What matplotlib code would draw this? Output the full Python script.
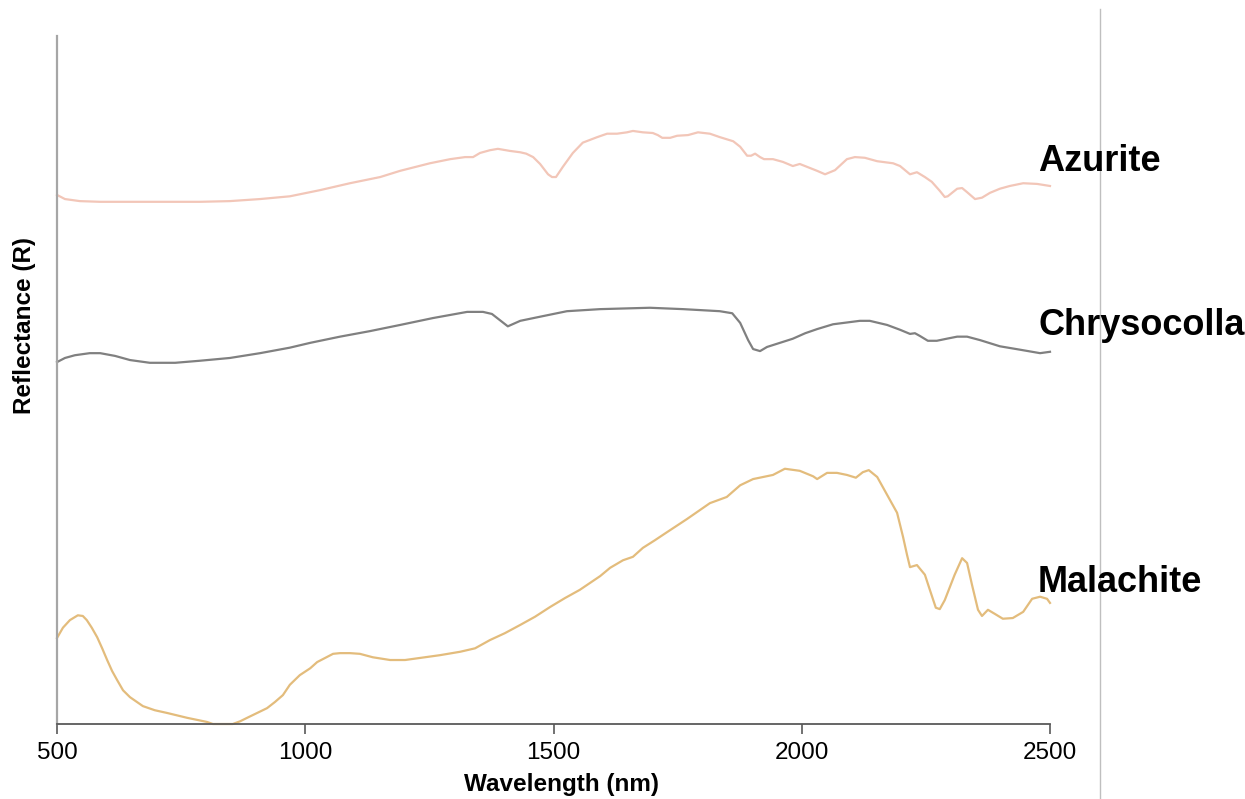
import matplotlib.pyplot as plt

plt.rcParams['font.family'] = ['Liberation Sans', 'DejaVu Sans']

# wavelength (nm) and relative reflectance
azurite_wl = [500, 516, 546, 587, 647, 707, 788, 848, 909, 969, 1030, 1090, 1151, 1191, 1251,
              1292, 1322, 1338, 1352, 1372, 1388, 1412, 1433, 1445, 1459, 1473, 1489, 1497, 1505,
              1519, 1539, 1559, 1588, 1608, 1628, 1648, 1660, 1680, 1700, 1710, 1719, 1735, 1749,
              1771, 1791, 1815, 1835, 1862, 1876, 1890, 1898, 1906, 1916, 1924, 1942, 1962, 1982,
              1996, 2017, 2031, 2047, 2067, 2091, 2107, 2127, 2152, 2184, 2198, 2218, 2232, 2248,
              2262, 2278, 2288, 2294, 2313, 2323, 2333, 2349, 2363, 2379, 2399, 2419, 2446, 2474, 2500]
azurite_r = [0.769, 0.763, 0.760, 0.759, 0.759, 0.759, 0.759, 0.760, 0.763, 0.767, 0.776, 0.786,
             0.795, 0.804, 0.815, 0.821, 0.824, 0.824, 0.830, 0.834, 0.836, 0.833, 0.831, 0.829,
             0.824, 0.814, 0.799, 0.795, 0.795, 0.810, 0.830, 0.845, 0.853, 0.858, 0.858, 0.860,
             0.862, 0.860, 0.859, 0.856, 0.852, 0.852, 0.855, 0.856, 0.860, 0.858, 0.853, 0.847,
             0.839, 0.826, 0.826, 0.829, 0.824, 0.821, 0.821, 0.817, 0.811, 0.814, 0.808, 0.804,
             0.799, 0.805, 0.821, 0.824, 0.823, 0.818, 0.815, 0.811, 0.799, 0.802, 0.795, 0.788,
             0.775, 0.766, 0.767, 0.778, 0.779, 0.773, 0.763, 0.765, 0.772, 0.778, 0.782, 0.786,
             0.785, 0.782]

chryso_wl = [500, 516, 536, 566, 587, 617, 647, 687, 738, 788, 848, 909, 969, 1010, 1070, 1130,
             1191, 1257, 1326, 1358, 1376, 1392, 1408, 1433, 1473, 1527, 1594, 1694, 1761, 1835,
             1860, 1876, 1892, 1902, 1916, 1930, 1956, 1982, 2007, 2031, 2063, 2117, 2137, 2172,
             2198, 2218, 2228, 2238, 2254, 2272, 2292, 2313, 2333, 2359, 2399, 2440, 2480, 2500]
chryso_r = [0.526, 0.532, 0.536, 0.539, 0.539, 0.535, 0.529, 0.525, 0.525, 0.528, 0.532, 0.539,
            0.547, 0.554, 0.563, 0.571, 0.580, 0.590, 0.599, 0.599, 0.596, 0.587, 0.578, 0.586,
            0.592, 0.600, 0.603, 0.605, 0.603, 0.600, 0.597, 0.583, 0.558, 0.545, 0.542, 0.548,
            0.554, 0.560, 0.568, 0.574, 0.581, 0.586, 0.586, 0.580, 0.573, 0.567, 0.568, 0.564,
            0.557, 0.557, 0.560, 0.563, 0.563, 0.558, 0.549, 0.544, 0.539, 0.541]

malach_wl = [500, 512, 526, 542, 552, 560, 570, 581, 591, 601, 611, 621, 633, 647, 673, 697, 722,
             762, 802, 814, 854, 869, 883, 903, 923, 939, 955, 969, 989, 1010, 1024, 1040, 1056,
             1070, 1090, 1110, 1136, 1171, 1201, 1231, 1271, 1312, 1342, 1372, 1402, 1433, 1463,
             1493, 1523, 1553, 1594, 1614, 1640, 1660, 1680, 1704, 1729, 1769, 1815, 1849, 1876,
             1902, 1942, 1966, 1996, 2023, 2031, 2051, 2071, 2091, 2109, 2123, 2135, 2152, 2172,
             2192, 2204, 2212, 2218, 2232, 2248, 2258, 2270, 2278, 2288, 2308, 2323, 2333, 2343,
             2355, 2363, 2375, 2389, 2405, 2425, 2446, 2464, 2480, 2494, 2500]
malach_r = [0.125, 0.140, 0.151, 0.158, 0.157, 0.151, 0.140, 0.126, 0.110, 0.093, 0.077, 0.064,
            0.049, 0.039, 0.026, 0.020, 0.016, 0.009, 0.003, 0.000, 0.000, 0.004, 0.009, 0.016,
            0.023, 0.032, 0.042, 0.057, 0.071, 0.081, 0.090, 0.096, 0.102, 0.103, 0.103, 0.102,
            0.097, 0.093, 0.093, 0.096, 0.100, 0.105, 0.110, 0.122, 0.132, 0.144, 0.156, 0.170,
            0.183, 0.195, 0.215, 0.227, 0.238, 0.243, 0.256, 0.267, 0.279, 0.298, 0.321, 0.330,
            0.347, 0.356, 0.362, 0.371, 0.368, 0.360, 0.356, 0.365, 0.365, 0.362, 0.358, 0.366,
            0.369, 0.359, 0.333, 0.307, 0.272, 0.246, 0.228, 0.231, 0.217, 0.195, 0.169, 0.167,
            0.180, 0.217, 0.241, 0.234, 0.202, 0.166, 0.157, 0.166, 0.160, 0.153, 0.154, 0.163,
            0.182, 0.185, 0.182, 0.176]

names = ["Azurite", "Chrysocolla", "Malachite"]
xticks = [500, 1000, 1500, 2000, 2500]

W, H = 1245, 799
fig = plt.figure(figsize=(W / 100, H / 100), dpi=100)
ax = fig.add_axes([57 / W, 1 - 724 / H, (1050 - 57) / W, (724 - 36) / H])

ax.plot(azurite_wl, azurite_r, color="#f2c6b8", lw=1.6, clip_on=False)
ax.plot(chryso_wl, chryso_r, color="#808080", lw=1.6, clip_on=False)
ax.plot(malach_wl, malach_r, color="#e3bc7c", lw=1.6, clip_on=False)

ax.set_xlim(500, 2500)
ax.set_ylim(0, 1)
ax.set_xticks(xticks)
ax.set_yticks([])
ax.tick_params(axis="x", direction="out", length=7, width=1.2, color="#595959",
               labelsize=17.5, pad=6)
for s in ["top", "right"]:
    ax.spines[s].set_visible(False)
ax.spines["bottom"].set_color("#595959")
ax.spines["bottom"].set_linewidth(1.3)
ax.spines["left"].set_color("#a6a6a6")
ax.spines["left"].set_linewidth(1.6)

fig.text(561 / W, 1 - 784 / H, "Wavelength (nm)",
         ha="center", va="center", fontsize=17.5, fontweight="bold")
fig.text(24 / W, 1 - 326 / H, "Reflectance (R)", rotation=90, ha="center", va="center",
         fontsize=17.5, fontweight="bold")

# thin vertical frame line at the right
fig.add_artist(plt.Line2D([1100 / W, 1100 / W], [0, 1 - 9 / H], color="#bfbfbf", lw=1.0))

label_base = [171, 335, 592]
for name, yb in zip(names, label_base):
    fig.text(1038 / W, 1 - yb / H, name, ha="left", va="baseline", fontsize=26,
             fontweight="bold", zorder=5)

fig.savefig("out.png", dpi=100)
